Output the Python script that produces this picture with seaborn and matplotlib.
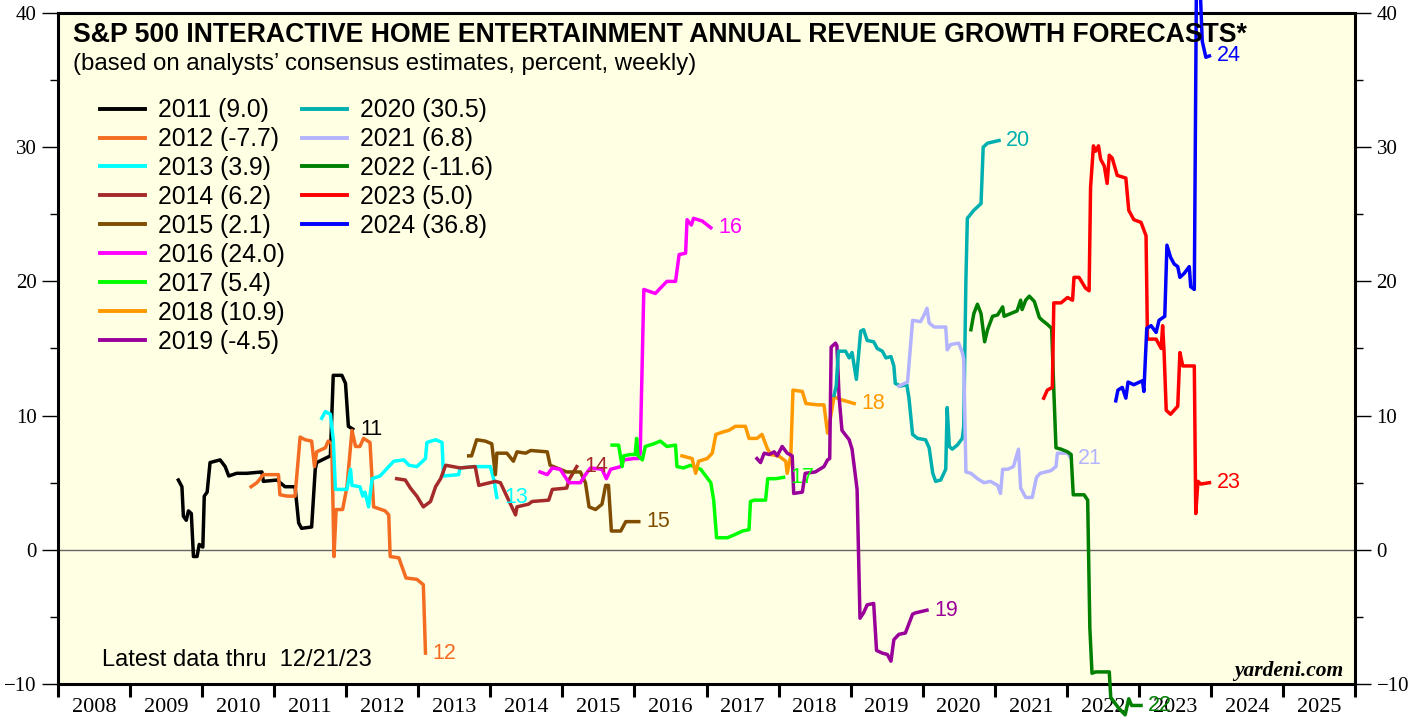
# Previsões de crescimento de receita - S&P 500 Interactive Home Entertainment
import matplotlib
matplotlib.use("Agg")
import pandas as pd
import matplotlib.pyplot as plt
import seaborn as sns
from matplotlib.lines import Line2D
from matplotlib.ticker import MultipleLocator, FixedLocator, NullFormatter, FixedFormatter

# Anos de previsão, cores e último valor (legenda)
anos = [2011, 2012, 2013, 2014, 2015, 2016, 2017, 2018, 2019, 2020, 2021, 2022, 2023, 2024]
cores = ["#000000", "#F36C21", "#00FFFF", "#A52A2A", "#804D00", "#FF00FF", "#00FF00",
         "#FF9900", "#990099", "#00AFAF", "#B3B3FF", "#007F00", "#FF0000", "#0000FF"]
finais = ["9.0", "-7.7", "3.9", "6.2", "2.1", "24.0", "5.4",
          "10.9", "-4.5", "30.5", "6.8", "-11.6", "5.0", "36.8"]

# Séries semanais (data em anos decimais, valor em %)
t11 = [2009.67, 2009.72, 2009.74, 2009.78, 2009.81, 2009.85, 2009.88, 2009.93, 2009.96, 2010.01,
       2010.03, 2010.07, 2010.11, 2010.25, 2010.32, 2010.37, 2010.48, 2010.62, 2010.83, 2010.85,
       2011.04, 2011.15, 2011.29, 2011.34, 2011.38, 2011.52, 2011.57, 2011.59, 2011.78, 2011.82,
       2011.94, 2011.99, 2012.03, 2012.09]
v11 = [5.2, 4.7, 2.5, 2.2, 2.9, 2.7, -0.5, -0.5, 0.4, 0.2,
       4.0, 4.3, 6.5, 6.7, 6.2, 5.5, 5.7, 5.7, 5.8, 5.1,
       5.2, 4.7, 4.7, 2.0, 1.6, 1.7, 6.0, 6.5, 7.0, 13.0,
       13.0, 12.4, 9.2, 9.0]

t12 = [2010.68, 2010.76, 2010.85, 2011.06, 2011.08, 2011.18, 2011.29, 2011.36, 2011.43, 2011.52,
       2011.56, 2011.59, 2011.71, 2011.75, 2011.80, 2011.83, 2011.86, 2011.95, 2012.01, 2012.08,
       2012.13, 2012.19, 2012.24, 2012.33, 2012.38, 2012.54, 2012.59, 2012.61, 2012.73, 2012.83,
       2012.98, 2013.07, 2013.10]
v12 = [4.7, 5.0, 5.6, 5.6, 4.1, 4.0, 4.0, 8.4, 8.2, 8.1,
       6.2, 7.3, 7.6, 8.1, 7.9, -0.5, 3.0, 3.0, 4.7, 8.9,
       7.7, 7.7, 8.3, 8.0, 3.2, 2.9, 2.6, -0.5, -0.6, -2.1,
       -2.2, -2.6, -7.7]

t13 = [2011.66, 2011.71, 2011.78, 2011.82, 2011.85, 2012.01, 2012.06, 2012.08, 2012.19, 2012.23,
       2012.26, 2012.31, 2012.36, 2012.47, 2012.59, 2012.66, 2012.80, 2012.87, 2012.98, 2013.10,
       2013.12, 2013.24, 2013.33, 2013.35, 2013.56, 2013.58, 2013.77, 2014.00, 2014.05, 2014.09]
v13 = [9.8, 10.3, 10.1, 8.2, 4.5, 4.5, 6.0, 4.8, 4.7, 4.0,
       4.3, 3.2, 5.3, 5.5, 6.2, 6.6, 6.7, 6.3, 6.2, 6.8,
       8.0, 8.2, 8.0, 5.5, 5.6, 6.1, 6.2, 6.2, 5.2, 3.9]

t14 = [2012.70, 2012.82, 2012.89, 2012.98, 2013.07, 2013.17, 2013.24, 2013.31, 2013.38, 2013.58,
       2013.79, 2013.84, 2014.07, 2014.14, 2014.35, 2014.37, 2014.53, 2014.58, 2014.81, 2014.86,
       2015.06, 2015.09, 2015.20]
v14 = [5.3, 5.2, 4.6, 4.0, 3.2, 3.6, 4.7, 5.3, 6.3, 6.1,
       6.2, 4.8, 5.1, 5.0, 2.6, 3.2, 3.4, 3.6, 3.7, 4.5,
       4.6, 5.2, 6.2]

t15 = [2013.70, 2013.74, 2013.81, 2013.93, 2014.02, 2014.07, 2014.09, 2014.23, 2014.32, 2014.37,
       2014.49, 2014.56, 2014.79, 2014.83, 2015.06, 2015.25, 2015.32, 2015.37, 2015.46, 2015.55,
       2015.60, 2015.64, 2015.68, 2015.81, 2015.88, 2016.06]
v15 = [7.0, 7.0, 8.2, 8.1, 7.9, 5.6, 7.2, 7.2, 6.6, 7.3,
       7.2, 7.4, 7.3, 6.3, 5.8, 5.8, 5.0, 3.2, 3.0, 3.4,
       4.8, 4.8, 1.4, 1.4, 2.1, 2.1]

t16 = [2014.69, 2014.79, 2014.86, 2014.97, 2015.09, 2015.25, 2015.32, 2015.39, 2015.55, 2015.61,
       2015.67, 2015.81, 2015.85, 2015.99, 2016.06, 2016.08, 2016.13, 2016.29, 2016.36, 2016.45,
       2016.57, 2016.62, 2016.71, 2016.73, 2016.79, 2016.82, 2016.94, 2017.06]
v16 = [5.8, 5.6, 6.1, 6.0, 5.0, 5.0, 5.6, 6.1, 6.0, 5.3,
       6.0, 6.2, 6.7, 6.8, 6.8, 7.2, 19.4, 19.1, 19.5, 20.0,
       20.0, 22.0, 22.1, 24.6, 24.2, 24.7, 24.5, 24.0]

t17 = [2015.69, 2015.78, 2015.83, 2015.85, 2015.94, 2016.01, 2016.03, 2016.05, 2016.11, 2016.15,
       2016.27, 2016.36, 2016.45, 2016.57, 2016.59, 2016.68, 2016.78, 2016.92, 2017.06, 2017.10,
       2017.14, 2017.29, 2017.38, 2017.50, 2017.59, 2017.61, 2017.66, 2017.82, 2017.85, 2017.96,
       2018.07]
v17 = [7.8, 7.8, 6.2, 7.0, 7.1, 7.1, 8.3, 7.0, 6.7, 7.7,
       7.9, 8.1, 7.7, 7.8, 6.2, 6.1, 6.3, 6.0, 5.0, 3.7,
       0.9, 0.9, 1.1, 1.4, 1.5, 3.6, 3.7, 3.7, 5.3, 5.3,
       5.4]

t18 = [2016.66, 2016.80, 2016.85, 2016.89, 2017.01, 2017.08, 2017.13, 2017.24, 2017.31, 2017.40,
       2017.54, 2017.59, 2017.70, 2017.77, 2017.84, 2017.89, 2018.00, 2018.10, 2018.12, 2018.17,
       2018.20, 2018.33, 2018.38, 2018.54, 2018.63, 2018.68, 2018.71, 2018.77, 2018.86, 2019.05]
v18 = [7.0, 6.8, 5.7, 6.6, 6.8, 7.2, 8.6, 8.8, 8.9, 9.2,
       9.2, 8.3, 8.3, 8.6, 7.6, 7.1, 7.0, 6.6, 5.7, 7.0,
       11.9, 11.8, 10.9, 10.8, 10.8, 8.7, 9.5, 11.4, 11.2, 10.9]

t19 = [2017.70, 2017.75, 2017.80, 2017.87, 2017.94, 2017.98, 2018.05, 2018.12, 2018.19, 2018.21,
       2018.33, 2018.37, 2018.51, 2018.63, 2018.68, 2018.71, 2018.73, 2018.79, 2018.81, 2018.84,
       2018.88, 2018.98, 2019.02, 2019.09, 2019.13, 2019.18, 2019.23, 2019.32, 2019.36, 2019.44,
       2019.51, 2019.56, 2019.60, 2019.67, 2019.76, 2019.86, 2019.90, 2020.06]
v19 = [6.8, 6.5, 7.2, 7.1, 7.3, 7.0, 7.7, 7.2, 7.0, 4.2,
       4.3, 5.7, 5.8, 6.2, 6.7, 6.8, 15.1, 15.4, 15.2, 11.4,
       8.9, 8.2, 7.5, 4.5, -5.1, -4.7, -4.1, -4.0, -7.5, -7.7,
       -7.8, -8.3, -6.7, -6.3, -6.2, -4.8, -4.7, -4.5]

t20 = [2018.77, 2018.80, 2018.83, 2018.86, 2018.93, 2018.98, 2019.02, 2019.08, 2019.14, 2019.18,
       2019.23, 2019.32, 2019.37, 2019.44, 2019.49, 2019.56, 2019.60, 2019.62, 2019.69, 2019.78,
       2019.81, 2019.86, 2019.93, 2020.04, 2020.09, 2020.14, 2020.18, 2020.25, 2020.32, 2020.34,
       2020.37, 2020.41, 2020.48, 2020.55, 2020.57, 2020.60, 2020.62, 2020.71, 2020.81, 2020.84,
       2020.90, 2021.06]
v20 = [11.5, 12.2, 14.8, 14.8, 14.8, 14.3, 14.7, 12.7, 16.3, 16.4,
       15.6, 15.5, 15.0, 14.8, 14.3, 14.4, 13.7, 12.4, 12.2, 12.3,
       11.3, 8.6, 8.3, 8.2, 7.6, 5.7, 5.1, 5.2, 6.0, 10.6,
       7.7, 7.5, 7.8, 8.3, 9.2, 20.1, 24.7, 25.3, 25.8, 30.0,
       30.3, 30.5]

t21 = [2019.67, 2019.79, 2019.83, 2019.86, 2019.97, 2020.02, 2020.06, 2020.09, 2020.16, 2020.32,
       2020.34, 2020.39, 2020.50, 2020.55, 2020.57, 2020.60, 2020.67, 2020.76, 2020.85, 2020.94,
       2021.04, 2021.08, 2021.11, 2021.18, 2021.26, 2021.33, 2021.36, 2021.43, 2021.52, 2021.58,
       2021.63, 2021.78, 2021.85, 2021.87, 2022.01, 2022.06]
v21 = [12.2, 12.5, 15.1, 17.1, 17.0, 17.5, 18.0, 16.9, 16.6, 16.6,
       14.9, 15.3, 15.4, 14.7, 14.2, 5.8, 5.7, 5.3, 5.0, 5.1,
       4.8, 4.2, 6.0, 6.0, 6.2, 7.5, 4.6, 3.9, 3.9, 5.4,
       5.7, 5.9, 6.2, 7.2, 7.2, 6.8]

t22 = [2020.67, 2020.71, 2020.76, 2020.81, 2020.86, 2020.90, 2020.97, 2021.04, 2021.11, 2021.13,
       2021.22, 2021.31, 2021.36, 2021.38, 2021.43, 2021.48, 2021.55, 2021.62, 2021.66, 2021.73,
       2021.79, 2021.82, 2021.85, 2021.92, 2022.01, 2022.06, 2022.09, 2022.24, 2022.29, 2022.32,
       2022.35, 2022.40, 2022.59, 2022.61, 2022.72, 2022.81, 2022.86, 2022.90, 2023.03]
v22 = [16.4, 17.6, 18.3, 17.6, 15.5, 16.4, 17.4, 17.5, 18.1, 17.4,
       17.6, 17.8, 18.6, 17.9, 18.6, 18.9, 18.5, 17.3, 17.1, 16.8,
       16.5, 11.9, 7.6, 7.5, 7.3, 7.1, 4.1, 4.1, 3.7, -5.8,
       -9.2, -9.1, -9.1, -11.0, -11.8, -12.3, -11.1, -11.6, -11.6]

t23 = [2021.68, 2021.73, 2021.80, 2021.82, 2021.92, 2022.01, 2022.08, 2022.10, 2022.17, 2022.26,
       2022.31, 2022.33, 2022.37, 2022.40, 2022.44, 2022.47, 2022.52, 2022.56, 2022.59, 2022.63,
       2022.70, 2022.82, 2022.86, 2022.93, 2023.03, 2023.10, 2023.12, 2023.24, 2023.31, 2023.33,
       2023.35, 2023.38, 2023.44, 2023.54, 2023.57, 2023.61, 2023.77, 2023.79, 2023.82, 2023.86,
       2023.98]
v23 = [11.3, 11.9, 12.1, 18.4, 18.4, 18.8, 18.6, 20.3, 20.3, 19.5,
       19.3, 27.0, 30.1, 29.7, 30.1, 29.1, 28.6, 27.3, 29.4, 29.2,
       27.9, 27.7, 25.3, 24.6, 24.4, 23.4, 15.7, 15.7, 15.0, 16.7,
       14.8, 10.4, 10.1, 10.7, 14.7, 13.7, 13.7, 2.7, 5.1, 4.9,
       5.0]

t24 = [2022.68, 2022.71, 2022.77, 2022.82, 2022.85, 2022.93, 2023.05, 2023.07, 2023.11, 2023.17,
       2023.24, 2023.28, 2023.36, 2023.39, 2023.44, 2023.49, 2023.54, 2023.57, 2023.63, 2023.70,
       2023.72, 2023.77, 2023.80, 2023.85, 2023.88, 2023.93, 2023.98]
v24 = [11.1, 11.9, 12.1, 11.3, 12.5, 12.3, 12.6, 11.8, 16.5, 16.7,
       16.2, 17.1, 17.4, 22.7, 21.8, 21.3, 21.1, 20.3, 20.6, 21.1,
       19.6, 19.4, 43.0, 42.0, 37.9, 36.7, 36.8]

tempos = [t11, t12, t13, t14, t15, t16, t17, t18, t19, t20, t21, t22, t23, t24]
valores = [v11, v12, v13, v14, v15, v16, v17, v18, v19, v20, v21, v22, v23, v24]

linhas = []
for ano, t, v in zip(anos, tempos, valores):
    for ti, vi in zip(t, v):
        linhas.append({"Data": ti, "Valor": vi, "Ano": str(ano)})
df = pd.DataFrame(linhas)

plt.rcParams['font.family'] = ['Liberation Sans', 'DejaVu Sans']
W, H = 1419, 719
fig = plt.figure(figsize=(W / 100, H / 100), dpi=100)
ax = fig.add_axes([58 / W, (H - 684) / H, (1355 - 58) / W, (684 - 13) / H])
ax.set_facecolor("#FFFFE4")

ax.axhline(0, color="#666666", lw=1.0, zorder=1)

paleta = dict(zip([str(a) for a in anos], cores))
sns.lineplot(data=df, x="Data", y="Valor", hue="Ano", palette=paleta, sort=False,
             estimator=None, legend=False, linewidth=2.5, ax=ax, zorder=3)
for ln in ax.lines[1:]:
    ln.set_clip_on(False)
    ln.set_solid_joinstyle("round")

# Rótulos no fim de cada linha
for ano, t, v, c in zip(anos, tempos, valores, cores):
    ax.text(t[-1] + 0.1, v[-1], str(ano)[2:], color=c, fontsize=15.5,
            va="center", ha="left", zorder=4)

ax.set_xlim(2008, 2026)
ax.set_ylim(-10, 40)
ax.set_xlabel("")
ax.set_ylabel("")

# Eixo x: marcas nas viradas de ano, rótulos no meio
ax.xaxis.set_major_locator(MultipleLocator(1))
ax.xaxis.set_major_formatter(NullFormatter())
meios = [a + 0.5 for a in range(2008, 2026)]
ax.xaxis.set_minor_locator(FixedLocator(meios))
ax.xaxis.set_minor_formatter(FixedFormatter([str(a) for a in range(2008, 2026)]))
ax.tick_params(axis="x", which="major", length=9, width=2.2, direction="out")
ax.tick_params(axis="x", which="minor", length=0, pad=10, labelsize=16)

ax.yaxis.set_major_locator(MultipleLocator(10))
ax.yaxis.set_minor_locator(MultipleLocator(5))
ax.tick_params(axis="y", which="both", left=True, right=True, labelleft=True,
               labelright=True, direction="out", width=1.0)
ax.tick_params(axis="y", which="major", length=11.5, pad=4, labelsize=15)
ax.tick_params(axis="y", which="minor", length=5.5)
for lab in ax.get_xticklabels(minor=True) + ax.get_yticklabels():
    lab.set_family("Liberation Serif")
for lab in ax.yaxis.get_ticklabels(which="major"):
    lab.set_family("Liberation Serif")

for s in ax.spines.values():
    s.set_linewidth(2.2)

# Legenda em duas colunas (9 + 5)
def handles(idx):
    return [Line2D([0], [0], color=cores[i], lw=2.8) for i in idx], \
           [f"{anos[i]} ({finais[i]})" for i in idx]

h1, l1 = handles(range(0, 9))
h2, l2 = handles(range(9, 14))
kw = dict(loc="upper left", frameon=False, fontsize=17.8, handlelength=1.82,
          handletextpad=0.52, labelspacing=0.2, borderpad=0, borderaxespad=0)
leg1 = ax.legend(h1, l1, bbox_to_anchor=(0.0324, 0.873), **kw)
ax.add_artist(leg1)
ax.legend(h2, l2, bbox_to_anchor=(0.1881, 0.873), **kw)

fig.text(73 / W, 1 - 42 / H, "S&P 500 INTERACTIVE HOME ENTERTAINMENT ANNUAL REVENUE GROWTH FORECASTS*",
         fontsize=19.2, fontweight="bold", va="baseline", ha="left")
fig.text(73 / W, 1 - 70 / H, "(based on analysts\u2019 consensus estimates, percent, weekly)",
         fontsize=17.3, va="baseline", ha="left")
fig.text(102 / W, 1 - 666 / H, "Latest data thru  12/21/23", fontsize=17,
         va="baseline", ha="left")
fig.text(1343 / W, 1 - 676 / H, "yardeni.com", fontsize=15.5, fontweight="bold",
         fontstyle="italic", family="Liberation Serif", va="baseline", ha="right")

fig.savefig("out.png", dpi=100)
